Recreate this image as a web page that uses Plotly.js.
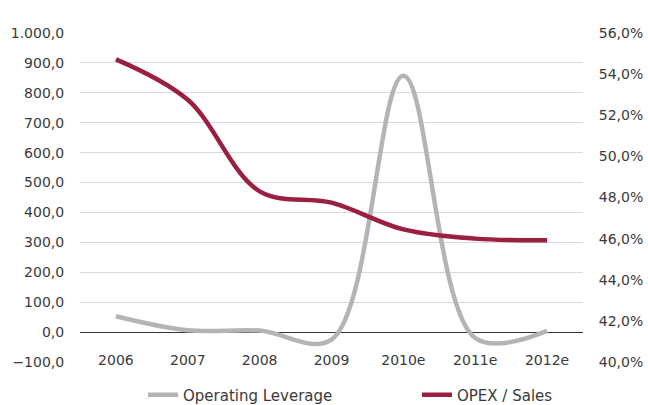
<!DOCTYPE html>
<html>
<head>
<meta charset="utf-8">
<script src="https://cdn.plot.ly/plotly-3.0.1.min.js"></script>
<style>html,body{margin:0;padding:0;background:#fff}#chart{width:648px;height:405px}</style>
</head>
<body>
<div id="chart"></div>
<script>
const years = ["2006", "2007", "2008", "2009", "2010e", "2011e", "2012e"];
const operatingLeverage = [53, 6, 5, -25, 857, -20, 4];
const opexSales = [0.5472, 0.5275, 0.4830, 0.4775, 0.4645, 0.4600, 0.4592];
const leftTicks = [-100, 0, 100, 200, 300, 400, 500, 600, 700, 800, 900, 1000];
const rightTicks = [0.40, 0.42, 0.44, 0.46, 0.48, 0.50, 0.52, 0.54, 0.56];

const font = {family: "DejaVu Sans, Arial, sans-serif", size: 14, color: "#3a3a3a"};
const legendFont = {family: "DejaVu Sans, Arial, sans-serif", size: 15, color: "#3a3a3a"};

const traces = [
  {
    x: years, y: operatingLeverage, name: "Operating Leverage",
    type: "scatter", mode: "lines",
    line: {color: "#B4B4B4", width: 4.5, shape: "spline", smoothing: 1},
    yaxis: "y", legend: "legend", hoverinfo: "skip"
  },
  {
    x: years, y: opexSales, name: "OPEX / Sales",
    type: "scatter", mode: "lines",
    line: {color: "#9A1F40", width: 4.5, shape: "spline", smoothing: 1},
    yaxis: "y2", legend: "legend2", hoverinfo: "skip"
  }
];

const layout = {
  width: 648, height: 405,
  margin: {l: 80, r: 65, t: 33, b: 43},
  paper_bgcolor: "#fff", plot_bgcolor: "#fff",
  separators: ",.",
  font: font,
  showlegend: true,
  legend: {
    orientation: "h", xref: "container", yref: "container",
    x: 143 / 648, y: 10 / 405, xanchor: "left", yanchor: "middle",
    font: legendFont
  },
  legend2: {
    orientation: "h", xref: "container", yref: "container",
    x: 417 / 648, y: 10 / 405, xanchor: "left", yanchor: "middle",
    font: legendFont
  },
  xaxis: {
    type: "category", range: [-0.5, 6.5],
    showgrid: false, zeroline: false, showline: false,
    ticks: "", ticklabelstandoff: -12,
    tickfont: font, fixedrange: true
  },
  yaxis: {
    range: [-100, 1000], tickvals: leftTicks,
    tickformat: ",.1f",
    showgrid: true, gridcolor: "#D9D9D9", gridwidth: 1,
    zeroline: true, zerolinecolor: "#333", zerolinewidth: 1,
    showline: false,
    ticks: "outside", ticklen: 12, tickcolor: "rgba(0,0,0,0)",
    tickfont: font, fixedrange: true
  },
  yaxis2: {
    range: [0.40, 0.56], tickvals: rightTicks,
    tickformat: ".1%",
    overlaying: "y", side: "right",
    showgrid: false, zeroline: false, showline: false,
    ticks: "outside", ticklen: 12, tickcolor: "rgba(0,0,0,0)",
    tickfont: font, fixedrange: true
  }
};

Plotly.newPlot("chart", traces, layout, {displayModeBar: false, staticPlot: true});
</script>
</body>
</html>
